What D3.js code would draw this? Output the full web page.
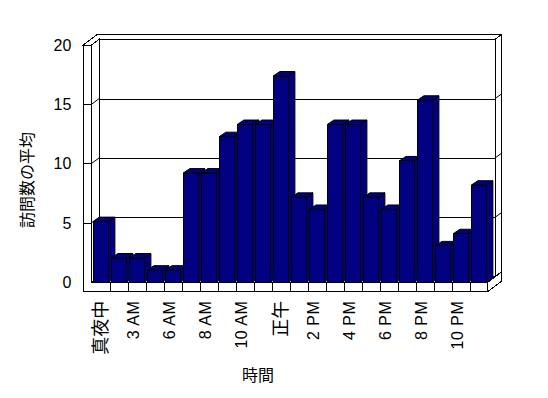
<!DOCTYPE html>
<html>
<head>
<meta charset="utf-8">
<script src="https://cdn.jsdelivr.net/npm/d3@7"></script>
<style>
  body { margin: 0; background: #fff; }
  text { font-family: "Liberation Sans", "Noto Sans CJK JP", sans-serif; font-size: 16px; fill: #000; }
</style>
</head>
<body>
<script>
"use strict";

var width = 548,
    height = 398;

// hours shown on the category axis (only every other one is labelled)
const categories = ["真夜中", "1 AM", "3 AM", "4 AM", "6 AM", "7 AM", "8 AM", "9 AM", "10 AM", "11 AM",
                    "正午", "1 PM", "2 PM", "3 PM", "4 PM", "5 PM", "6 PM", "7 PM", "8 PM", "9 PM", "10 PM", "11 PM"];
const visits = [5, 2, 2, 1, 1, 9, 9, 12, 13, 13, 17, 7, 6, 13, 13, 7, 6, 10, 15, 3, 4, 8];
const yTicks = [0, 5, 10, 15, 20];
const labelCats = categories.filter((d, i) => i % 2 === 0);
const yTitle = "訪問数の平均";
const xTitle = "時間";

// 3d box geometry
const depth = { dx: 7.5, dy: -5.8 };     // floor front edge -> back wall
const wallT = { dx: 6.7, dy: -4.9 };     // thickness of back wall
const barD = { dx: 6.7, dy: -4.5 };      // depth of a bar
const leftT = 8.4, floorT = 9.4;

let svg = d3.select("body").append("svg")
    .attr("width", width)
    .attr("height", height);

let x = d3.scaleBand()
    .domain(categories)
    .range([91.7, 487.7])
    .paddingInner(1 / 6)
    .paddingOuter(1 / 12);

let yBar = d3.scaleLinear().domain([0, 20]).range([282.3, 39.6]);
let yWall = d3.scaleLinear().domain([0, 20]).range([276.6, 39.2]);
let yEdge = d3.scaleLinear().domain([0, 20]).range([281.7, 45]);

function poly(pts) {
    return "M" + pts.map(p => p[0] + "," + p[1]).join("L") + "Z";
}

const fx0 = x.range()[0], fx1 = x.range()[1], fy = yBar(0);
const bx0 = fx0 + depth.dx, bx1 = fx1 + depth.dx, by = fy + depth.dy;
const wTop = yWall(20), eTop = yEdge(20);

let frame = svg.append("g").attr("id", "frame")
    .attr("fill", "#fff").attr("stroke", "#000").attr("stroke-width", 1)
    .attr("shape-rendering", "crispEdges");

// back wall face
frame.append("path").attr("d", poly([[bx0, wTop], [bx1, wTop], [bx1, by], [bx0, by]]));
// top of walls
frame.append("path").attr("d", poly([
    [fx0 - leftT, eTop], [fx0 - leftT + depth.dx + wallT.dx, eTop + depth.dy + wallT.dy],
    [bx1 + wallT.dx, wTop + wallT.dy], [bx1, wTop], [bx0, wTop], [fx0, eTop]]));
// right side of back wall
frame.append("path").attr("d", poly([
    [bx1, wTop], [bx1 + wallT.dx, wTop + wallT.dy], [bx1 + wallT.dx, by + wallT.dy], [bx1, by]]));
// inner face of left wall
frame.append("path").attr("d", poly([[fx0, eTop], [bx0, wTop], [bx0, by], [fx0, fy]]));
// floor
frame.append("path").attr("d", poly([[fx0, fy], [fx1, fy], [bx1, by], [bx0, by]]));
frame.append("path").attr("d", poly([
    [fx1, fy], [fx1 + depth.dx + wallT.dx, fy + depth.dy + wallT.dy],
    [fx1 + depth.dx + wallT.dx, fy + floorT + depth.dy + wallT.dy], [fx1, fy + floorT]]));
// front edges of left wall and floor
frame.append("path").attr("d", poly([
    [fx0 - leftT, eTop], [fx0, eTop], [fx0, fy], [fx1, fy], [fx1, fy + floorT], [fx0 - leftT, fy + floorT]]));

// gridlines and value ticks
let grid = svg.append("g").attr("id", "grid").attr("stroke", "#000").attr("fill", "none");
yTicks.filter(v => v > 0 && v < 20).forEach(function (v) {
    grid.append("line").attr("x1", bx0).attr("x2", bx1)
        .attr("y1", Math.round(yWall(v)) + 0.5).attr("y2", Math.round(yWall(v)) + 0.5);
    grid.append("line").attr("x1", fx0).attr("y1", yEdge(v)).attr("x2", bx0).attr("y2", yWall(v));
    grid.append("line").attr("x1", fx0 - leftT).attr("x2", fx0)
        .attr("y1", Math.round(yEdge(v)) + 0.5).attr("y2", Math.round(yEdge(v)) + 0.5);
    grid.append("line").attr("x1", bx1).attr("y1", yWall(v))
        .attr("x2", bx1 + wallT.dx).attr("y2", yWall(v) + wallT.dy);
});

// category dividers on the floor edge
categories.slice(1).forEach(function (c) {
    let tx = Math.round(x(c) - x.step() * x.paddingInner() / 2) + 0.5;
    grid.append("line").attr("x1", tx).attr("x2", tx).attr("y1", fy).attr("y2", fy + floorT);
});

// bars
let bars = svg.append("g").attr("id", "bars")
    .selectAll("g")
    .data(categories.map((c, i) => ({ cat: c, value: visits[i] })))
    .enter()
    .append("g")
    .attr("fill", "#000080")
    .attr("stroke", "#000")
    .attr("stroke-linejoin", "miter");

bars.append("path").attr("d", function (d) {
    let x0 = x(d.cat) + x.bandwidth(), yt = yBar(d.value), yb = yBar(0);
    return poly([[x0, yt], [x0 + barD.dx, yt + barD.dy], [x0 + barD.dx, yb + barD.dy], [x0, yb]]);
});
bars.append("path").attr("d", function (d) {
    let x0 = x(d.cat), x1 = x0 + x.bandwidth(), yt = yBar(d.value);
    return poly([[x0, yt], [x0 + barD.dx, yt + barD.dy], [x1 + barD.dx, yt + barD.dy], [x1, yt]]);
});
bars.append("rect")
    .attr("shape-rendering", "crispEdges")
    .attr("x", d => x(d.cat))
    .attr("y", d => yBar(d.value))
    .attr("width", x.bandwidth())
    .attr("height", d => yBar(0) - yBar(d.value));

// value axis labels
let yAxis = svg.append("g")
    .attr("transform", "translate(" + (fx0 - leftT) + ",0)")
    .call(d3.axisLeft(yEdge).tickValues(yTicks).tickSize(0).tickPadding(12));
yAxis.select(".domain").remove();
yAxis.selectAll("text").attr("dy", null).attr("dominant-baseline", "central")
    .style("font-size", "16px").style("font-family", null);

// category labels
const isLatin = d => /[A-Z]/.test(d);
let xAxis = svg.append("g")
    .attr("transform", "translate(0," + (fy + floorT) + ")")
    .call(d3.axisBottom(x).tickValues(labelCats).tickSize(0));
xAxis.select(".domain").remove();
xAxis.selectAll("text")
    .attr("y", 0)
    .attr("dy", d => isLatin(d) ? "-3px" : null)
    .attr("transform", "translate(0,9) rotate(-90)")
    .attr("text-anchor", "end")
    .attr("dominant-baseline", "central")
    .style("font-size", d => isLatin(d) ? "16px" : "18px")
    .style("letter-spacing", d => isLatin(d) ? "0.5px" : null)
    .style("font-family", null);

// titles
svg.append("text")
    .attr("transform", "translate(27,180) rotate(-90)")
    .attr("text-anchor", "middle")
    .attr("dominant-baseline", "central")
    .text(yTitle);

svg.append("text")
    .attr("x", 258).attr("y", 375)
    .attr("text-anchor", "middle")
    .attr("dominant-baseline", "central")
    .text(xTitle);
</script>
</body>
</html>
